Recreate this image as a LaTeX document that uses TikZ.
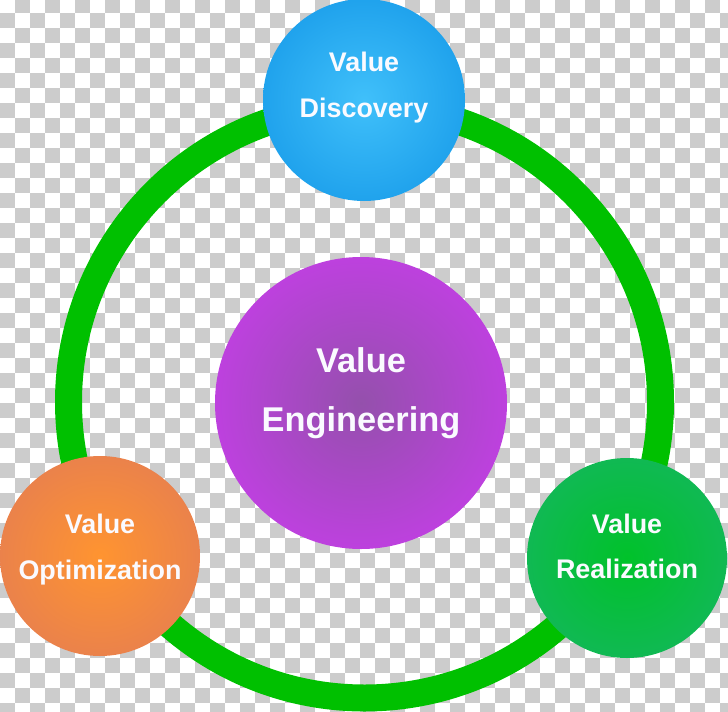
\documentclass[tikz,border=0pt]{standalone}
\usepackage{fontspec}
\setmainfont{Liberation Sans}
\usepackage{xcolor}
\usepackage{tikz}
\usetikzlibrary{calc}

\definecolor{checkgray}{HTML}{CCCCCC}
\definecolor{ringgreen}{HTML}{00C000}
\definecolor{textwhite}{HTML}{FAFAFF}
\definecolor{blueinner}{HTML}{40C0FA}
\definecolor{blueouter}{HTML}{1C9FEB}
\definecolor{orangeinner}{HTML}{FF9430}
\definecolor{orangeouter}{HTML}{E8804E}
\definecolor{greeninner}{HTML}{00C22A}
\definecolor{greenouter}{HTML}{12B858}
\definecolor{purpleinner}{HTML}{9450AC}
\definecolor{purpleouter}{HTML}{C23FE4}

% radial glow, inner colour at the centre, outer colour towards the rim
\pgfdeclareradialshading[glowin,glowout]{glow}{\pgfpoint{0bp}{0bp}}{color(0bp)=(glowin); color(28bp)=(glowout); color(50bp)=(glowout)}

\begin{document}
\begin{tikzpicture}[
    x=1bp, y=-1bp,
    checker/.style={fill=checkgray},
    ring/.style={draw=ringgreen, line width=27bp},
    bubble/.style n args={3}{circle, inner sep=0pt, minimum size=#1, shading=glow,
        /utils/exec={\colorlet{glowin}{#2inner}\colorlet{glowout}{#3outer}}},
    caption/.style={align=center, text=textwhite, font=\bfseries\fontsize{27}{46}\selectfont},
    bigcaption/.style={align=center, text=textwhite, font=\bfseries\fontsize{34.5}{60}\selectfont}
]

\useasboundingbox (0,0) rectangle (728,712);

% Background checkerboard
\begin{scope}
\clip (0,0) rectangle (728,712);
\foreach \j in {0,...,47}
  \foreach \i in {0,...,48} {
    \pgfmathtruncatemacro\oddsq{mod(\i+\j,2)}
    \ifnum\oddsq=1
      \fill[checker] (15*\i,15*\j-2.3) rectangle ++(15,15);
    \fi
  }
\end{scope}

% Ring
\coordinate (hub) at (364.5,402);
\draw[ring] (hub) circle (296);

% Stages
\node[bubble={202bp}{blue}{blue}] (discovery) at (364,100) {};
\node[bubble={200bp}{orange}{orange}] (optimization) at (100,556) {};
\node[bubble={200bp}{green}{green}] (realization) at (627,558) {};
\node[bubble={292bp}{purple}{purple}] (engineering) at (361,403) {};

% Labels
\node[caption] (discoverytext) at ([yshift=14.7bp]discovery.center) {\strut Value\\\strut Discovery};
\node[caption] (optimizationtext) at ([yshift=8.7bp]optimization.center) {\strut Value\\\strut Optimization};
\node[caption] (realizationtext) at ([yshift=11.2bp]realization.center) {\strut Value\\\strut Realization};
\node[bigcaption] (engineeringtext) at ([yshift=13bp]engineering.center) {\strut Value\\\strut Engineering};

\end{tikzpicture}
\end{document}
